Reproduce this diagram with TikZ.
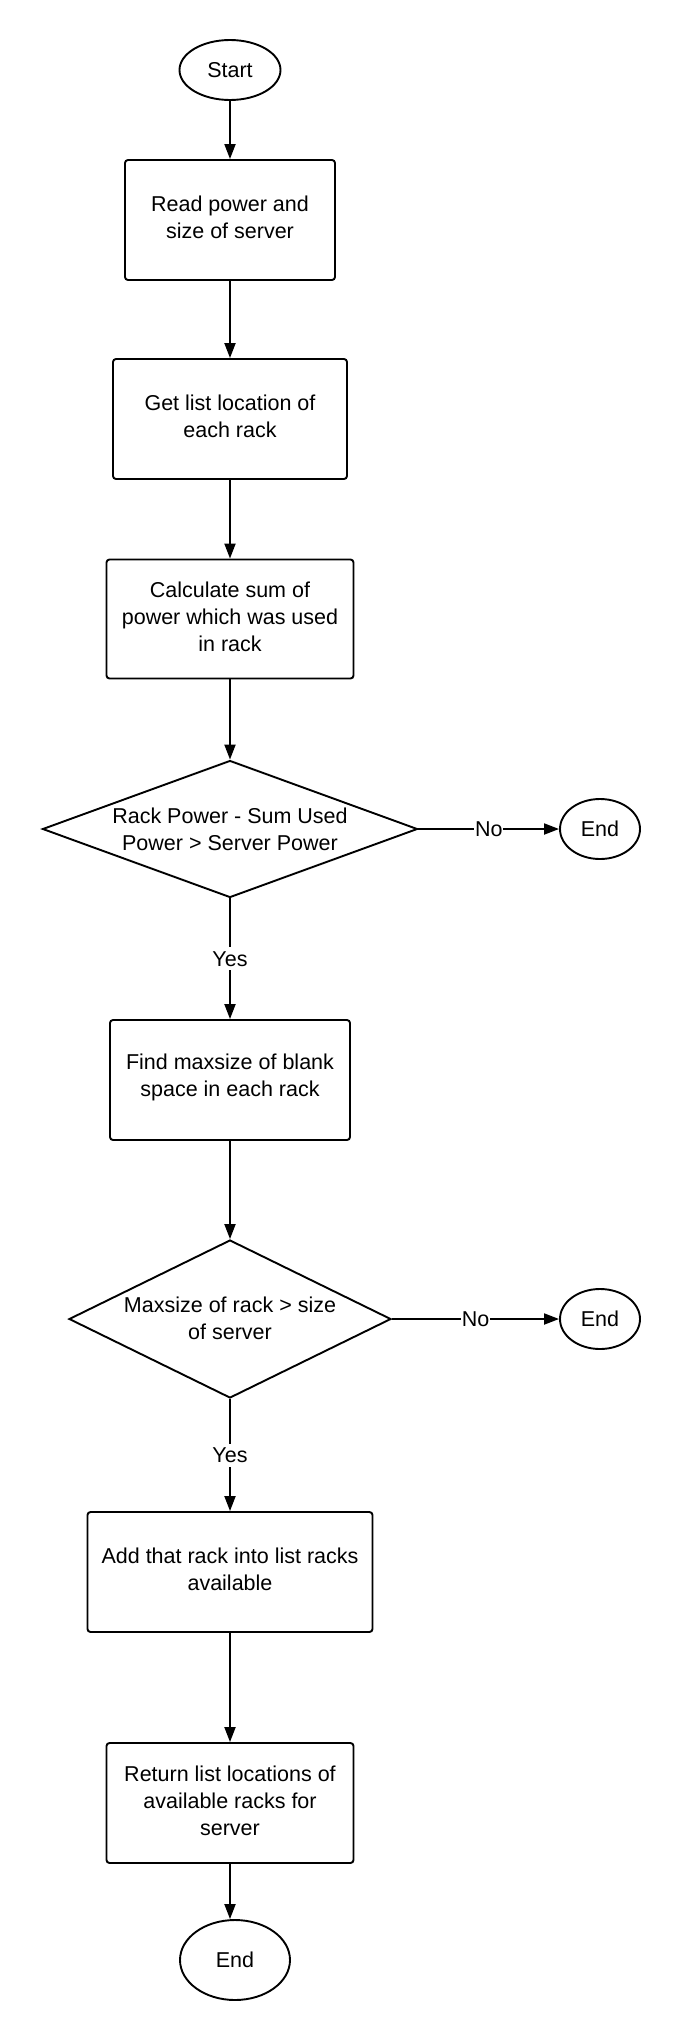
\documentclass[tikz,border=0pt]{standalone}
\usepackage{fontspec}
\setmainfont{Liberation Sans}
\usetikzlibrary{shapes.geometric,arrows.meta}
\begin{document}
\begin{tikzpicture}[x=1pt,y=-1pt,
  every node/.style={font=\fontsize{21.5}{27}\selectfont},
  proc/.style={draw,line width=1.9pt,rounded corners=3pt,inner sep=0pt},
  term/.style={draw,ellipse,line width=1.9pt,inner sep=0pt},
  dec/.style={draw,diamond,line width=1.9pt,inner sep=0pt},
  txt/.style={align=center,inner sep=0pt},
  lbl/.style={fill=white,inner xsep=1pt,inner ysep=4pt},
  conn/.style={line width=1.9pt,-{Triangle[length=15pt,width=11pt]}}]
\useasboundingbox (0,0) rectangle (680,2040);
\fill[white] (0,0) rectangle (680,2040);

\node[term,minimum width=101pt,minimum height=60pt] (start) at (230,70) {Start};
\node[proc,minimum width=210pt,minimum height=120pt] (b1) at (230,220) {};
\node[txt] (b1t) at ([yshift=3pt]b1.center) {Read power and\\size of server};
\node[proc,minimum width=234pt,minimum height=120pt] (b2) at (230,419) {};
\node[txt] (b2t) at ([yshift=2.5pt]b2.center) {Get list location of\\each rack};
\node[proc,minimum width=247pt,minimum height=119pt] (b3) at (230,619) {};
\node[txt] (b3t) at ([yshift=2pt]b3.center) {Calculate sum of\\power which was used\\in rack};
\node[dec,minimum width=375pt,minimum height=137pt] (d1) at (230,829) {};
\node[txt] (t1) at (d1.center) {Rack Power - Sum Used\\Power > Server Power};
\node[term,minimum width=80pt,minimum height=60pt] (e1) at (600,829) {End};
\node[proc,minimum width=240pt,minimum height=120pt] (b4) at (230,1080) {};
\node[txt] (b4t) at ([yshift=2.5pt]b4.center) {Find maxsize of blank\\space in each rack};
\node[dec,minimum width=322pt,minimum height=158pt] (d2) at (230,1319) {};
\node[txt] (t2) at ([yshift=1pt]d2.center) {Maxsize of rack > size\\of server};
\node[term,minimum width=80pt,minimum height=60pt] (e2) at (600,1319) {End};
\node[proc,minimum width=285pt,minimum height=120pt] (b5) at (230,1572) {};
\node[txt] (b5t) at ([yshift=3pt]b5.center) {Add that rack into list racks\\available};
\node[proc,minimum width=247pt,minimum height=120pt] (b6) at (230,1803) {};
\node[txt] (b6t) at ([yshift=2pt]b6.center) {Return list locations of\\available racks for\\server};
\node[term,minimum width=110pt,minimum height=80pt] (e3) at (235,1960) {End};

\draw[conn] (start) -- (b1);
\draw[conn] (b1) -- (b2);
\draw[conn] (b2) -- (b3);
\draw[conn] (b3) -- (d1);
\draw[conn] (d1.east) -- node[lbl] {No} (e1.west);
\draw[conn] (d1.south) -- node[lbl] {Yes} (b4.north);
\draw[conn] (b4) -- (d2);
\draw[conn] (d2.east) -- node[lbl] {No} (e2.west);
\draw[conn] (d2.south) -- node[lbl] {Yes} (b5.north);
\draw[conn] (b5) -- (b6);
\draw[conn] (b6.south) -- (b6.south |- e3.north);
\end{tikzpicture}
\end{document}
